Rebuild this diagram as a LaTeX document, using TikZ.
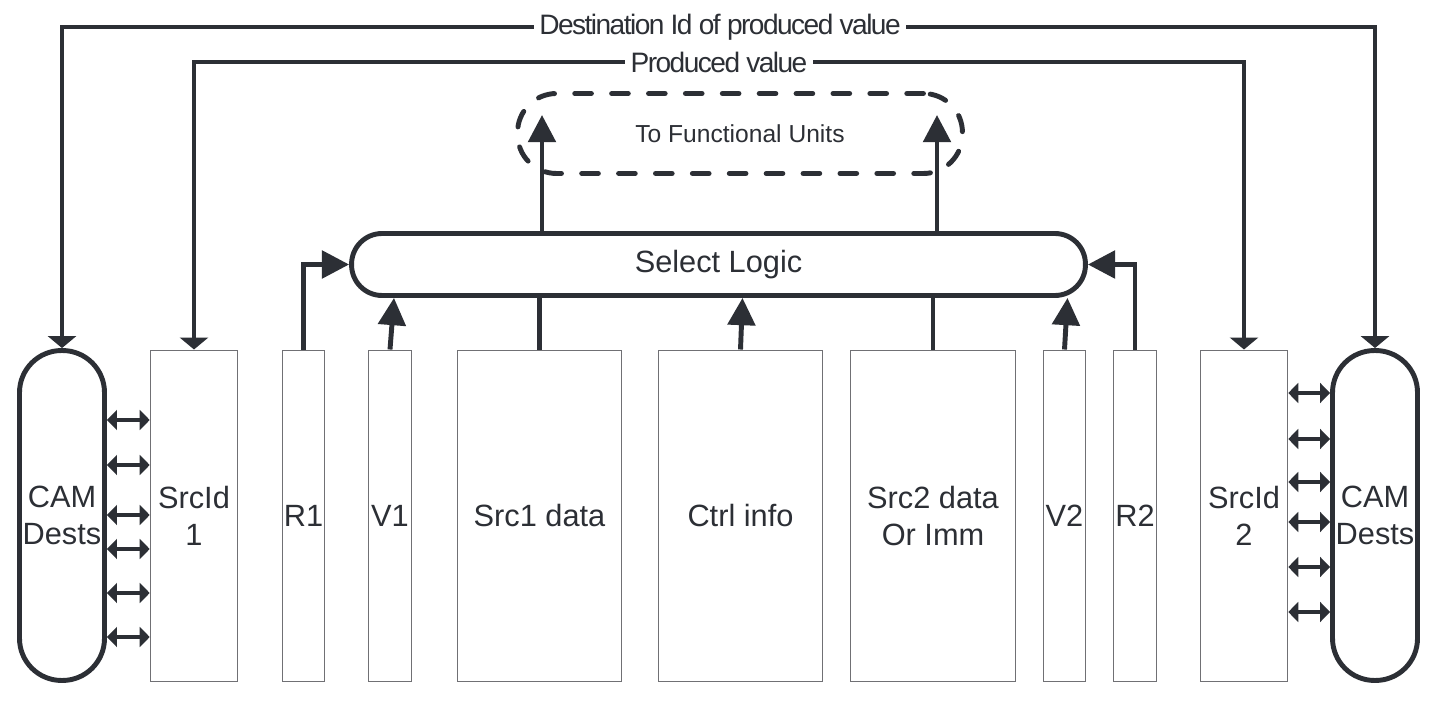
\documentclass[tikz,border=0pt]{standalone}
\usepackage{fontspec}
\setmainfont{Liberation Sans}
\newfontfamily\tightsans[LetterSpace=-5.5]{Liberation Sans}
\usetikzlibrary{arrows.meta,calc}
\definecolor{mydark}{RGB}{44,47,53}
\definecolor{myedge}{RGB}{112,112,116}

\begin{document}
\begin{tikzpicture}[
    x=0.02cm, y=-0.02cm,
    field/.style={draw=myedge,line width=0.6pt,minimum height=6.64cm,inner sep=0pt,align=center,text=mydark,font=\fontsize{17.5}{21}\selectfont},
    cam/.style={draw=mydark,line width=2.8pt,rounded corners=0.84cm,minimum width=1.7cm,minimum height=6.6cm,inner sep=0pt,align=center,text=mydark,font=\fontsize{17.5}{21}\selectfont},
    pill/.style={draw=mydark,line width=2.8pt,text=mydark},
    lbl/.style={fill=white,inner xsep=3pt,inner ysep=1pt,text=mydark,font=\tightsans\fontsize{16}{18}\selectfont},
    bus/.style={mydark,line width=2.8pt},
    arr/.style={bus,-{Triangle[length=15.5pt,width=15.5pt]}},
    drop/.style={bus,-{Triangle[length=6.8pt,width=15.9pt]}},
    dbl/.style={mydark,line width=2.2pt,{Triangle[length=5.7pt,width=11.3pt]}-{Triangle[length=5.7pt,width=11.3pt]}}
]
\path[use as bounding box,fill=white] (0,0) rectangle (1439,705);

% entry fields
\node[field,minimum width=1.75cm] (sid1) at (194,516)    {SrcId\\1};
\node[field,minimum width=0.85cm] (r1)   at (303.5,516)  {R1};
\node[field,minimum width=0.87cm] (v1)   at (390,516)    {V1};
\node[field,minimum width=3.29cm] (src1) at (539.5,516)  {Src1 data};
\node[field,minimum width=3.29cm] (ctrl) at (740.5,516)  {Ctrl info};
\node[field,minimum width=3.31cm] (src2) at (933,516)    {Src2 data\\Or Imm};
\node[field,minimum width=0.85cm] (v2)   at (1064.5,516) {V2};
\node[field,minimum width=0.87cm] (r2)   at (1135,516)   {R2};
\node[field,minimum width=1.75cm] (sid2) at (1244,516)   {SrcId\\2};

\node[cam] (camL) at (62,515.5)   {CAM\\Dests};
\node[cam] (camR) at (1375,515.5) {CAM\\Dests};

% select logic and FUs
\node[pill,rounded corners=0.61cm,minimum width=14.68cm,minimum height=1.24cm,font=\fontsize{17.5}{21}\selectfont] (sel) at (718.5,264.5) {Select Logic};
\node[pill,dash pattern=on 9.5pt off 11.5pt,line cap=round,rounded corners=0.78cm,minimum width=8.9cm,minimum height=1.6cm,font=\fontsize{14}{16}\selectfont] (fu) at (740,133.5) {To Functional Units};
\coordinate (fu1) at (542,115);
\coordinate (fu2) at (937,115);
\draw[arr] (sel.north -| fu1) -- (fu1);
\draw[arr] (sel.north -| fu2) -- (fu2);

\draw[arr] (r1.north) |- (sel.west);
\draw[arr] (v1.north) -- ($(v1.north |- sel.south)+(4,0)$);
\draw[bus] (src1.north) -- (src1.north |- sel.south);
\draw[arr] (ctrl.north) -- ($(ctrl.north |- sel.south)+(2,0)$);
\draw[bus] (src2.north) -- (src2.north |- sel.south);
\draw[arr] (v2.north) -- ($(v2.north |- sel.south)+(3,0)$);
\draw[arr] (r2.north) |- (sel.east);

% broadcast buses
\node[lbl] (dst) at (720,27) {Destination Id of produced value};
\node[lbl] (pv)  at (719,62) {Produced value};
\draw[drop] (dst.west) -| (camL.north);
\draw[drop] (dst.east) -| (camR.north);
\draw[drop] (pv.west) -| (sid1.north);
\draw[drop] (pv.east) -| (sid2.north);

% CAM match lines
\foreach \y in {420,465,515,549,593,637}
    \draw[dbl] (camL.east |- 0,\y) -- (sid1.west |- 0,\y);
\foreach \y in {393,439,482,522,567,612}
    \draw[dbl] (sid2.east |- 0,\y) -- (camR.west |- 0,\y);
\end{tikzpicture}
\end{document}
